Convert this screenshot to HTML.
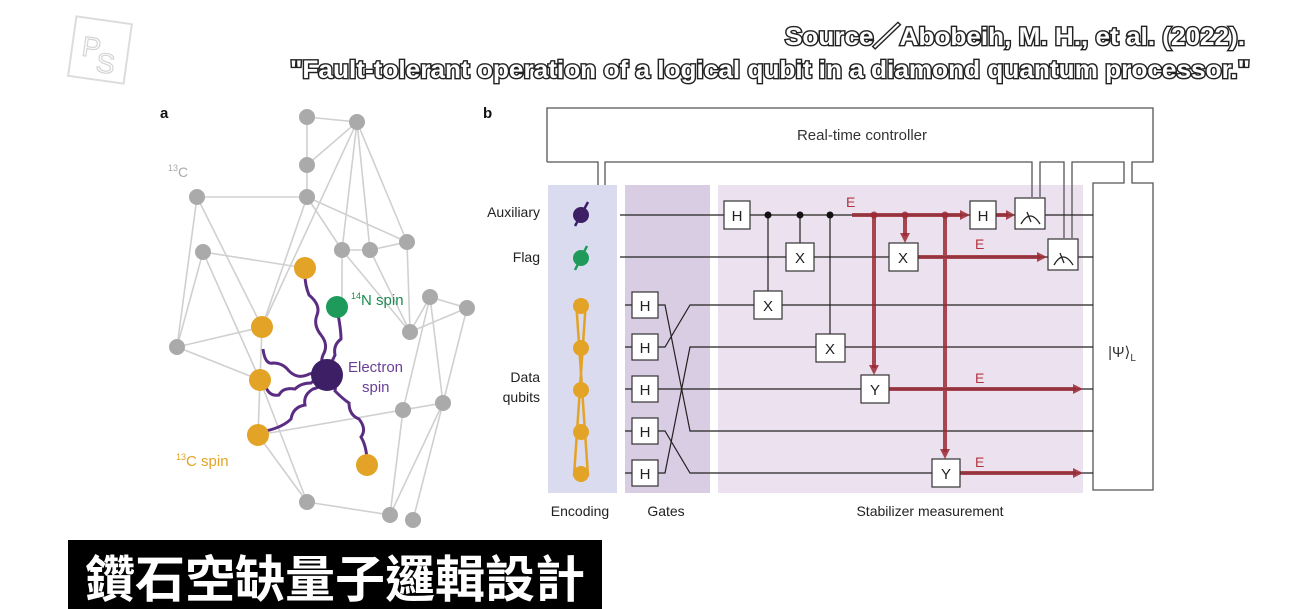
<!DOCTYPE html>
<html><head><meta charset="utf-8"><style>
html,body{margin:0;padding:0;background:#fff;}
svg{display:block;}
</style></head><body>
<svg width="1316" height="609" viewBox="0 0 1316 609" xmlns="http://www.w3.org/2000/svg" font-family="Liberation Sans, sans-serif">
<rect width="1316" height="609" fill="#fff"/>
<!-- PS logo -->
<g transform="rotate(8 100 50)" opacity="0.5">
<rect x="72" y="20" width="56" height="60" fill="none" stroke="#bbb" stroke-width="2"/>
<text x="82" y="58" font-size="28" fill="#fff" stroke="#aaa" stroke-width="1.2">P</text>
<text x="98" y="72" font-size="28" fill="#fff" stroke="#aaa" stroke-width="1.2">S</text>
</g>
<!-- header -->
<g font-weight="bold" font-size="25" fill="#fff" stroke="#222" stroke-width="2.8" paint-order="stroke" text-anchor="end" font-family="Liberation Sans Narrow, Liberation Sans, sans-serif">
<text x="1245" y="45" textLength="460" lengthAdjust="spacingAndGlyphs">Source／Abobeih, M. H., et al. (2022).</text>
<text x="1250" y="78" textLength="960" lengthAdjust="spacingAndGlyphs">"Fault-tolerant operation of a logical qubit in a diamond quantum processor."</text>
</g>
<!-- panel a -->
<text x="160" y="118" font-size="15" font-weight="bold" fill="#111">a</text>
<text x="483" y="118" font-size="15" font-weight="bold" fill="#111">b</text>
<g stroke="#d0d0d0" stroke-width="1.6" fill="none">
<path d="M307 117 L357 122 L307 165 M307 117 L307 197 M357 122 L307 165 M357 122 L342 250 M357 122 L370 250 M357 122 L407 242 M357 122 L262 327 M197 197 L307 197 M197 197 L177 347 M197 197 L262 327 M307 197 L407 242 M307 197 L342 250 M307 197 L262 327 M203 252 L305 268 M203 252 L260 380 M203 252 L177 347 M342 250 L370 250 L407 242 M342 250 L342 310 M342 250 L410 332 M407 242 L410 332 M370 250 L410 332 M410 332 L430 297 L467 308 M410 332 L467 308 M430 297 L443 403 M430 297 L403 410 M467 308 L443 403 M177 347 L262 327 M177 347 L260 380 M260 380 L258 435 M262 327 L260 380 M258 435 L443 403 M258 435 L307 502 M403 410 L443 403 M443 403 L413 520 M443 403 L390 515 M403 410 L390 515 M307 502 L390 515 M260 380 L307 502"/>
</g>
<g stroke="#5a2d82" stroke-width="3" fill="none">
<path d="M327 375 q-8 -10 -4 -20 q6 -10 -2 -20 q-8 -10 -4 -20 q4 -10 -8 -20 q-4 -10 -4 -20"/>
<path d="M327 375 q-12 -4 -20 0 q-10 4 -18 -4 q-6 -8 -16 -8 q-8 2 -10 -14"/>
<path d="M327 375 q-10 2 -16 8 q-10 0 -16 6 q-12 -2 -16 6 q-10 2 -14 -10"/>
<path d="M327 375 q-4 12 -14 14 q-10 6 -8 16 q-12 2 -14 14 q-8 8 -25 12"/>
<path d="M327 375 q10 6 8 16 q8 8 14 12 q0 12 10 16 q8 10 2 18 q6 10 6 26"/>
<path d="M327 375 q4 -12 8 -20 q-2 -10 6 -16 q0 -10 -4 -30"/>
</g>
<g>
<g fill="#aaa">
<circle cx="307" cy="117" r="8"/><circle cx="357" cy="122" r="8"/><circle cx="307" cy="165" r="8"/><circle cx="197" cy="197" r="8"/><circle cx="307" cy="197" r="8"/><circle cx="203" cy="252" r="8"/><circle cx="342" cy="250" r="8"/><circle cx="370" cy="250" r="8"/><circle cx="407" cy="242" r="8"/><circle cx="430" cy="297" r="8"/><circle cx="467" cy="308" r="8"/><circle cx="410" cy="332" r="8"/><circle cx="177" cy="347" r="8"/><circle cx="403" cy="410" r="8"/><circle cx="443" cy="403" r="8"/><circle cx="307" cy="502" r="8"/><circle cx="390" cy="515" r="8"/><circle cx="413" cy="520" r="8"/>
</g>
<g fill="#e2a326">
<circle cx="305" cy="268" r="11"/><circle cx="262" cy="327" r="11"/><circle cx="260" cy="380" r="11"/><circle cx="258" cy="435" r="11"/><circle cx="367" cy="465" r="11"/>
</g>
<circle cx="337" cy="307" r="11" fill="#1e9a5a"/>
<circle cx="327" cy="375" r="16" fill="#3d1f66"/>
</g>
<text x="168" y="177" font-size="14" fill="#aaa"><tspan font-size="9" dy="-6">13</tspan><tspan dy="6">C</tspan></text>
<text x="351" y="305" font-size="15" fill="#1e8a50"><tspan font-size="9" dy="-6">14</tspan><tspan dy="6">N spin</tspan></text>
<text x="348" y="372" font-size="15" fill="#6b3f99">Electron</text>
<text x="362" y="392" font-size="15" fill="#6b3f99">spin</text>
<text x="176" y="466" font-size="15" fill="#e2a326"><tspan font-size="9" dy="-6">13</tspan><tspan dy="6">C spin</tspan></text>
<!-- panel b -->
<rect x="548" y="185" width="69" height="308" fill="#dadbef"/>
<rect x="625" y="185" width="85" height="308" fill="#d9cde4"/>
<rect x="718" y="185" width="365" height="308" fill="#ece2ef"/>
<g fill="none" stroke="#555" stroke-width="1.3">
<path d="M547 162 V108 H1153 V162 H1132 V183 H1153 V490 H1093 V183 H1124 V162 H1072 V238 M1064 238 V162 H1040 V197 M1032 197 V162 H605 V185 M598 185 V162 H547"/>
</g>
<text x="862" y="140" font-size="15" fill="#333" text-anchor="middle">Real-time controller</text>
<text x="1122" y="357" font-size="15" fill="#333" text-anchor="middle">|Ψ⟩<tspan font-size="10" dy="4">L</tspan></text>
<!-- wires -->
<g stroke="#222" stroke-width="1.2" fill="none">
<path d="M620 215 H1093 M620 257 H1093"/>
<path d="M625 305 H632 M625 347 H632 M625 389 H632 M625 431 H632 M625 473 H632"/>
<path d="M658 305 H665 L690 431 H1093"/>
<path d="M658 347 H665 L690 305 H1093"/>
<path d="M658 389 H1093"/>
<path d="M658 431 H665 L690 473 H1093"/>
<path d="M658 473 H665 L690 347 H1093"/>
<path d="M768 215 V305 M800 215 V243 M830 215 V347"/>
</g>
<g fill="#111"><circle cx="768" cy="215" r="3.5"/><circle cx="800" cy="215" r="3.5"/><circle cx="830" cy="215" r="3.5"/></g>
<!-- red -->
<g stroke="#9b2a35" stroke-opacity="0.85" stroke-width="4" fill="none">
<path d="M852 215 H962 M874 215 V368 M905 215 V236 M945 215 V452 M918 257 H1040 M889 389 H1076 M960 473 H1076 M996 215 H1008"/>
</g>
<g fill="#9b2a35" fill-opacity="0.85">
<path d="M970 215 l-10 -5 v10z M874 375 l-5 -10 h10z M905 243 l-5 -10 h10z M945 459 l-5 -10 h10z M1047 257 l-10 -5 v10z M1083 389 l-10 -5 v10z M1083 473 l-10 -5 v10z M1015 215 l-9 -5 v10z"/>
<circle cx="874" cy="215" r="3.5"/><circle cx="905" cy="215" r="3.5"/><circle cx="945" cy="215" r="3.5"/>
</g>
<g fill="#b3333f" font-size="14"><text x="846" y="207">E</text><text x="975" y="249">E</text><text x="975" y="383">E</text><text x="975" y="467">E</text></g>
<!-- gates -->
<g fill="#fff" stroke="#333" stroke-width="1.2">
<rect x="724" y="201" width="26" height="28"/><rect x="970" y="201" width="26" height="28"/>
<rect x="786" y="243" width="28" height="28"/><rect x="889" y="243" width="29" height="28"/>
<rect x="754" y="291" width="28" height="28"/><rect x="816" y="334" width="29" height="28"/>
<rect x="861" y="375" width="28" height="28"/><rect x="932" y="459" width="28" height="28"/>
<rect x="632" y="292" width="26" height="26"/><rect x="632" y="334" width="26" height="26"/><rect x="632" y="376" width="26" height="26"/><rect x="632" y="418" width="26" height="26"/><rect x="632" y="460" width="26" height="26"/>
<rect x="1015" y="198" width="30" height="31"/><rect x="1048" y="239" width="30" height="31"/>
</g>
<g stroke="#222" stroke-width="1.3" fill="none">
<path d="M1021 224 q9 -16 19 0 M1027 212 l4 10"/><path d="M1054 265 q9 -16 19 0 M1060 253 l4 10"/>
</g>
<g font-size="15" fill="#222" text-anchor="middle">
<text x="737" y="221">H</text><text x="983" y="221">H</text>
<text x="800" y="263">X</text><text x="903" y="263">X</text>
<text x="768" y="311">X</text><text x="830" y="354">X</text>
<text x="875" y="395">Y</text><text x="946" y="479">Y</text>
<text x="645" y="311">H</text><text x="645" y="353">H</text><text x="645" y="395">H</text><text x="645" y="437">H</text><text x="645" y="479">H</text>
</g>
<!-- qubit icons -->
<circle cx="581" cy="215" r="8" fill="#3d1f66"/><path d="M575 226 L588 202" stroke="#3d1f66" stroke-width="2.5"/>
<circle cx="581" cy="258" r="8" fill="#1e9a5a"/><path d="M575 270 L587 246" stroke="#1e9a5a" stroke-width="2.5"/>
<g stroke="#e2a326" stroke-width="2.5" fill="none"><path d="M576 300 L588 476 M586 300 L574 476"/></g>
<g fill="#e2a326"><circle cx="581" cy="306" r="8"/><circle cx="581" cy="348" r="8"/><circle cx="581" cy="390" r="8"/><circle cx="581" cy="432" r="8"/><circle cx="581" cy="474" r="8"/></g>
<g font-size="14" fill="#222">
<text x="540" y="217" text-anchor="end">Auxiliary</text>
<text x="540" y="262" text-anchor="end">Flag</text>
<text x="540" y="382" text-anchor="end">Data</text>
<text x="540" y="402" text-anchor="end">qubits</text>
<text x="580" y="516" text-anchor="middle">Encoding</text>
<text x="666" y="516" text-anchor="middle">Gates</text>
<text x="930" y="516" text-anchor="middle">Stabilizer measurement</text>
</g>
<!-- caption -->
<rect x="68" y="540" width="534" height="69" fill="#000"/>
<text x="335" y="597" font-size="50" font-weight="bold" fill="#fff" text-anchor="middle" font-family="Liberation Sans, Noto Sans CJK TC, sans-serif" textLength="500" lengthAdjust="spacingAndGlyphs">鑽石空缺量子邏輯設計</text>
</svg>
</body></html>
